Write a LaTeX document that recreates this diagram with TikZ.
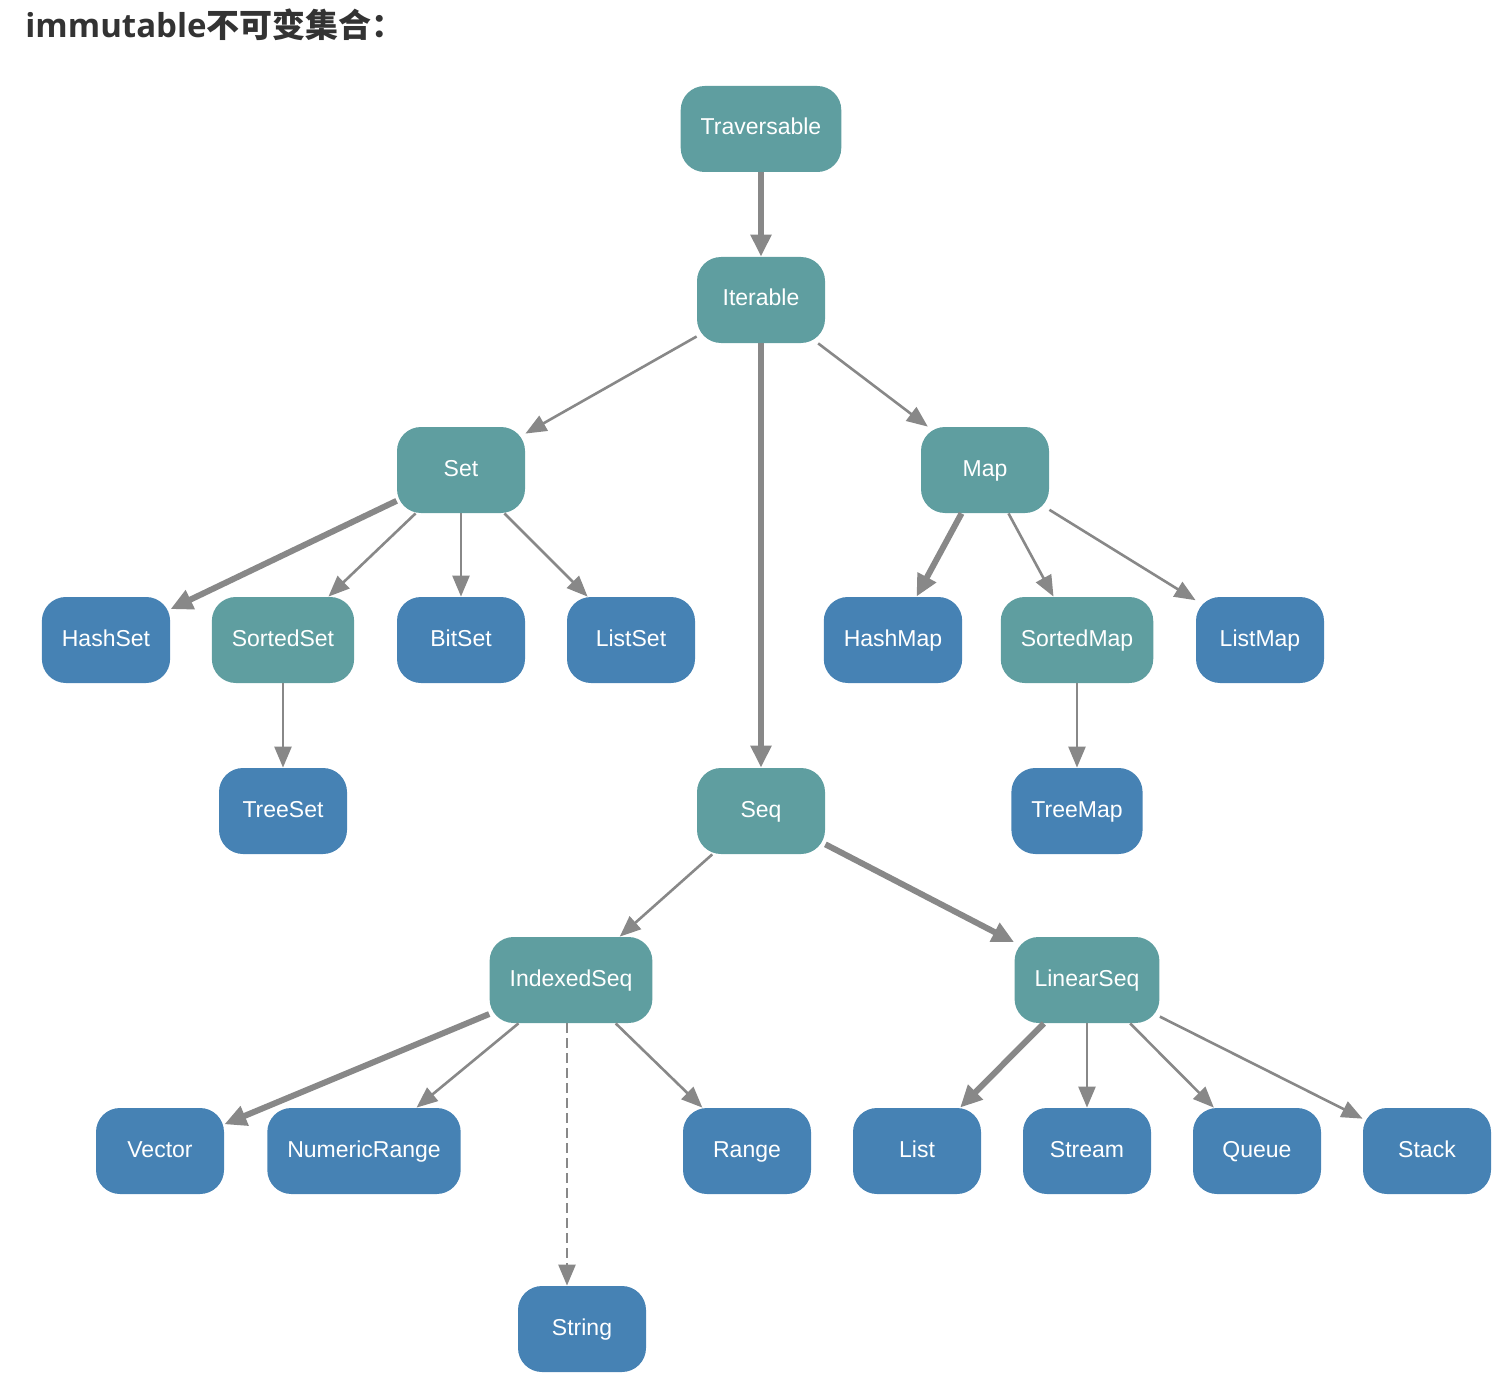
\documentclass[tikz,border=0pt]{standalone}
\usepackage{fontspec}
\setmainfont{Liberation Sans}
\newfontfamily\opensans{Open Sans}
\newfontfamily\cjk{Noto Sans CJK SC}
\usetikzlibrary{arrows.meta}
\definecolor{traitcol}{HTML}{5F9EA0}
\definecolor{classcol}{HTML}{4682B4}
\definecolor{edgecol}{HTML}{888888}
\definecolor{titlecol}{HTML}{333333}

\begin{document}
\begin{tikzpicture}[
    x=0.5pt, y=-0.5pt,
    box/.style={rounded corners=12pt, text=white, minimum width=64pt, minimum height=43pt, inner xsep=10pt, text height=8.5pt, text depth=2.5pt, font=\fontsize{11.5}{13}\selectfont},
    trait/.style={box, fill=traitcol},
    leaf/.style={box, fill=classcol},
    sub/.style={draw=edgecol, line width=1.3pt, -{Triangle[length=10.5pt, width=8.5pt]}},
    mainsub/.style={draw=edgecol, line width=3pt, -{Triangle[length=11pt, width=10pt]}}
  ]
    \useasboundingbox (0,0) rectangle (1512,1386);
    \node[anchor=base west, text=titlecol, inner sep=0pt, font=\fontsize{16.5}{18}\selectfont\bfseries] (title) at (25,38) {{\opensans immutable}{\cjk 不可变集合：}};

    \node[trait] (trav) at (761,129) {Traversable};
    \node[trait] (iter) at (761,300) {Iterable};
    \node[trait] (set) at (461,470) {Set};
    \node[trait] (map) at (985,470) {Map};

    \node[leaf] (hashset) at (106,640) {HashSet};
    \node[trait] (sortedset) at (283,640) {SortedSet};
    \node[leaf] (bitset) at (461,640) {BitSet};
    \node[leaf] (listset) at (631,640) {ListSet};
    \node[leaf] (hashmap) at (893,640) {HashMap};
    \node[trait] (sortedmap) at (1077,640) {SortedMap};
    \node[leaf] (listmap) at (1260,640) {ListMap};

    \node[leaf] (treeset) at (283,811) {TreeSet};
    \node[trait] (seq) at (761,811) {Seq};
    \node[leaf] (treemap) at (1077,811) {TreeMap};

    \node[trait] (indexed) at (571,980) {IndexedSeq};
    \node[trait] (linear) at (1087,980) {LinearSeq};

    \node[leaf] (vector) at (160,1151) {Vector};
    \node[leaf] (numrange) at (364,1151) {NumericRange};
    \node[leaf] (range) at (747,1151) {Range};
    \node[leaf] (list) at (917,1151) {List};
    \node[leaf] (stream) at (1087,1151) {Stream};
    \node[leaf] (queue) at (1257,1151) {Queue};
    \node[leaf] (stack) at (1427,1151) {Stack};
    \node[leaf] (string) at (582,1329) {String};

    \draw[mainsub] (trav) -- (iter);
    \draw[sub] (iter) -- (set);
    \draw[mainsub] (iter) -- (seq);
    \draw[sub] (iter) -- (map);

    \draw[mainsub] (set) -- (hashset);
    \draw[sub] (set) -- (sortedset);
    \draw[sub] (set) -- (bitset);
    \draw[sub] (set) -- (listset);
    \draw[sub] (sortedset) -- (treeset);

    \draw[mainsub] (map) -- (hashmap);
    \draw[sub] (map) -- (sortedmap);
    \draw[sub] (map) -- (listmap);
    \draw[sub] (sortedmap) -- (treemap);

    \draw[sub] (seq) -- (indexed);
    \draw[mainsub] (seq) -- (linear);

    \draw[mainsub] (indexed) -- (vector);
    \draw[sub] (indexed) -- (numrange);
    \draw[sub, dash pattern=on 5pt off 2.5pt] ([xshift=-2pt]indexed.south) -- ([xshift=-2pt]indexed.south |- string.north);
    \draw[sub] (indexed) -- (range);

    \draw[mainsub] (linear) -- (list);
    \draw[sub] (linear) -- (stream);
    \draw[sub] (linear) -- (queue);
    \draw[sub] (linear) -- (stack);
  \end{tikzpicture}
\end{document}
